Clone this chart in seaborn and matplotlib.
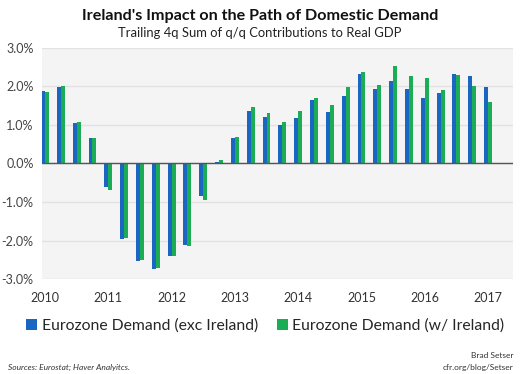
import pandas as pd
import matplotlib
matplotlib.use("Agg")
import matplotlib.pyplot as plt
import seaborn as sns

# quarterly data, 2010Q1 - 2017Q1
quarters = [f"{y}Q{q}" for y in range(2010, 2018) for q in range(1, 5)][:29]
exc_ireland = [1.87, 1.98, 1.06, 0.67, -0.60, -1.95, -2.54, -2.74, -2.41, -2.11,
               -0.85, 0.05, 0.65, 1.36, 1.21, 1.01, 1.18, 1.65, 1.34, 1.75,
               2.32, 1.93, 2.13, 1.93, 1.71, 1.83, 2.32, 2.27, 1.98]
w_ireland = [1.85, 2.02, 1.07, 0.67, -0.69, -1.93, -2.50, -2.71, -2.39, -2.13,
             -0.95, 0.08, 0.69, 1.47, 1.30, 1.08, 1.37, 1.70, 1.53, 1.98,
             2.37, 2.03, 2.54, 2.28, 2.23, 1.90, 2.29, 2.00, 1.60]
series_names = ["Eurozone Demand (exc Ireland)", "Eurozone Demand (w/ Ireland)"]
year_labels = [str(y) for y in range(2010, 2018)]
colors = ["#1a66c0", "#1aad55"]

df = pd.DataFrame({
    "quarter": quarters * 2,
    "value": exc_ireland + w_ireland,
    "series": [series_names[0]] * len(quarters) + [series_names[1]] * len(quarters),
})

sns.set_style("white")
plt.rcParams["font.family"] = ["Lato", "DejaVu Sans"]

fig = plt.figure(figsize=(5.2, 3.74), dpi=100)
ax = fig.add_axes([0.0808, 0.254, 0.9058, 0.6177])
ax.set_facecolor("#f4f4f4")

sns.barplot(data=df, x="quarter", y="value", hue="series", palette=colors,
            width=0.5, ax=ax, legend=True, saturation=1, linewidth=0)

ax.set_ylim(-3, 3)
ax.set_xlim(-0.19, 29.58)
ax.set_yticks([-3, -2, -1, 0, 1, 2, 3])
ax.set_yticklabels([f"{v:.1f}%" for v in [-3, -2, -1, 0, 1, 2, 3]],
                   fontsize=9, color="#444444")
ax.set_xticks(range(0, 29, 4))
ax.set_xticklabels(year_labels, fontsize=9, color="#333333")
ax.tick_params(axis="both", length=0)
ax.tick_params(axis="x", pad=9)
ax.tick_params(axis="y", pad=6)
ax.set_xlabel("")
ax.set_ylabel("")
for s in ax.spines.values():
    s.set_visible(False)
ax.grid(axis="y", color="#e2e2e2", lw=1)
ax.set_axisbelow(True)
ax.axhline(0, color="#555555", lw=1, zorder=5)

handles, labels = ax.get_legend_handles_labels()
ax.get_legend().remove()
fig.legend(handles, labels, loc="center", bbox_to_anchor=(0.51, 0.13), ncol=2,
           frameon=False, fontsize=11.3, handlelength=0.7, handleheight=0.7,
           handletextpad=0.3, columnspacing=1.2, borderaxespad=0)

fig.text(0.5, 0.958, "Ireland's Impact on the Path of Domestic Demand",
         ha="center", va="center", fontsize=11.6, fontweight="bold", color="#111111")
fig.text(0.5, 0.912, "Trailing 4q Sum of q/q Contributions to Real GDP",
         ha="center", va="center", fontsize=9.4, color="#222222")
fig.text(0.015, 0.018, "Sources: Eurostat; Haver Analyitcs.", ha="left", va="center",
         fontsize=6, style="italic", color="#333333")
fig.text(0.987, 0.05, "Brad Setser", ha="right", va="center", fontsize=6, color="#333333")
fig.text(0.987, 0.018, "cfr.org/blog/Setser", ha="right", va="center", fontsize=6,
         color="#333333")

fig.savefig("out.png", dpi=100)
